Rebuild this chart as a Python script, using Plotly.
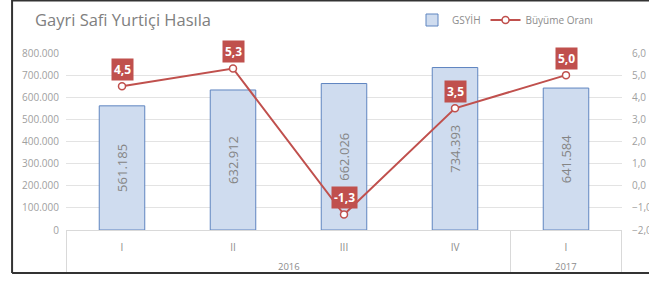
import plotly.graph_objects as go

years = ["2016", "2016", "2016", "2016", "2017"]
quarters = ["I", "II", "III", "IV", "I"]
gsyih = [561185, 632912, 662026, 734393, 641584]
growth = [4.5, 5.3, -1.3, 3.5, 5.0]
left_ticks = [0, 100000, 200000, 300000, 400000, 500000, 600000, 700000, 800000]
right_ticks = [-2, -1, 0, 1, 2, 3, 4, 5, 6]

FONT = "Open Sans"
GRAY = "#8c8c8c"
RED = "#c0504d"
LIGHT = "#d9d9d9"

cats = [f"{y} {q}" for y, q in zip(years, quarters)]

fig = go.Figure()
fig.add_trace(go.Bar(
    x=cats, y=gsyih, name="GSYİH",
    marker=dict(color="#cfdcef", line=dict(color="#5f85c0", width=1)),
    width=0.41,
    texttemplate="%{y:,.0f}", textposition="inside", insidetextanchor="middle",
    textangle=-90, textfont=dict(color="#858585", size=13, family=FONT),
))
fig.add_trace(go.Scatter(
    x=cats, y=growth, name="Büyüme Oranı", yaxis="y2",
    mode="lines+markers",
    line=dict(color=RED, width=2),
    marker=dict(symbol="circle", size=7, color="white", line=dict(color=RED, width=1.5)),
))

for c, v in zip(cats, growth):
    fig.add_annotation(
        x=c, y=v, yref="y2", xref="x",
        text=f"<b>{v:.1f}</b>".replace(".", ","), showarrow=False,
        yshift=17, bgcolor=RED, font=dict(color="white", size=12, family=FONT),
        borderpad=2,
    )

FRAME_BOTTOM = -0.243

# year group labels and dividers
groups = []
for i, y in enumerate(years):
    if not groups or groups[-1][0] != y:
        groups.append([y, i, i])
    else:
        groups[-1][2] = i
for y, a, b in groups:
    fig.add_annotation(x=(a + b) / 2, xref="x", y=-0.205, yref="paper", yanchor="middle",
                       text=y, showarrow=False, font=dict(size=9.5, color=GRAY, family=FONT))
    for xv in (a - 0.5, b + 0.5):
        fig.add_shape(type="line", xref="x", yref="paper", x0=xv, x1=xv, y0=0, y1=FRAME_BOTTOM,
                      line=dict(color=LIGHT, width=1))

# frame
fig.add_shape(type="line", xref="paper", yref="paper", x0=-0.097, x1=-0.097, y0=FRAME_BOTTOM, y1=1.3,
              line=dict(color="#333333", width=2))
fig.add_shape(type="line", xref="paper", yref="paper", x0=-0.097, x1=1.1, y0=FRAME_BOTTOM, y1=FRAME_BOTTOM,
              line=dict(color="#333333", width=2))
fig.add_shape(type="line", xref="paper", yref="paper", x0=-0.097, x1=1.1, y0=1.297, y1=1.297,
              line=dict(color="#333333", width=2))

fig.update_layout(
    width=649, height=281,
    margin=dict(l=66, r=27, t=53, b=51, autoexpand=False),
    paper_bgcolor="white", plot_bgcolor="white",
    separators=",.",
    font=dict(family=FONT, color=GRAY, size=10),
    title=dict(text="Gayri Safi Yurtiçi Hasıla", x=35/649, xanchor="left", xref="container",
               y=1-20/281, yanchor="middle", yref="container",
               font=dict(size=16.5, color="#808080", family=FONT)),
    showlegend=True,
    legend=dict(orientation="h", x=412/649, xanchor="left", xref="container",
                y=1-20/281, yanchor="middle", yref="container",
                font=dict(size=10, color=GRAY), bgcolor="rgba(0,0,0,0)", itemwidth=30),
    xaxis=dict(type="category", tickvals=cats, ticktext=quarters, showgrid=False,
               showline=True, linecolor=LIGHT, ticks="",
               tickfont=dict(size=10, color=GRAY), automargin=False, ticklabelstandoff=8),
    yaxis=dict(range=[0, 800000], tickvals=left_ticks, tickformat=",.0f",
               showgrid=True, gridcolor="#e3e3e3", zeroline=False, automargin=False,
               tickfont=dict(size=10, color="#a0a0a0"), ticklabelstandoff=6),
    yaxis2=dict(range=[-2, 6], tickvals=right_ticks, tickformat=".1f", overlaying="y",
                side="right", showgrid=False, zeroline=False, automargin=False,
                tickfont=dict(size=10, color="#a0a0a0"), ticklabelstandoff=9),
)

fig.write_html("out.html", config={"displayModeBar": False},
               post_script="document.body.style.margin='0';document.body.style.overflow='hidden';")
